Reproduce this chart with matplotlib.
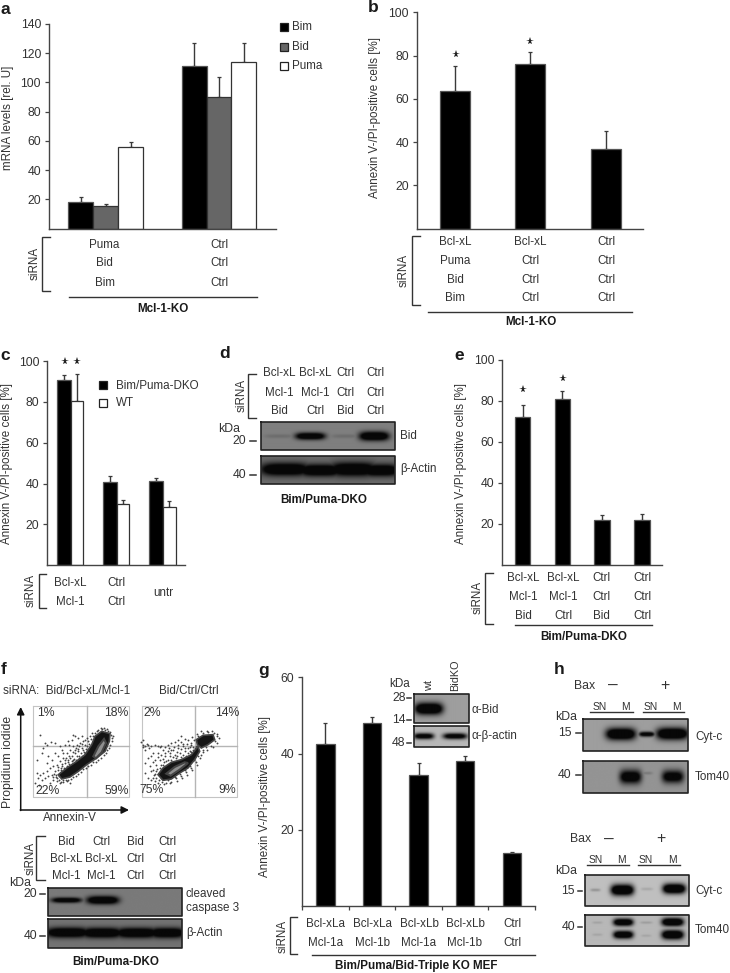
import numpy as np
import matplotlib
matplotlib.use('Agg')
import matplotlib.pyplot as plt

plt.rcParams['font.family'] = ['Liberation Sans', 'DejaVu Sans']
W, H = 730, 973
TXT = '#333333'
FS = 8.4

# panel a
a_groups = ['Puma\nBid\nBim', 'Ctrl\nCtrl\nCtrl']
a_bim = [18, 111]
a_bid = [15.5, 90]
a_puma = [56, 114]
a_bim_top = [22, 127]
a_bid_top = [17, 104]
a_puma_top = [59, 127]
# panel b
b_vals = [63.5, 76, 36.7]
b_top = [75, 81.5, 45]
b_rows = [['Bcl-xL', 'Bcl-xL', 'Ctrl'], ['Puma', 'Ctrl', 'Ctrl'], ['Bid', 'Ctrl', 'Ctrl'], ['Bim', 'Ctrl', 'Ctrl']]
# panel c
c_dko = [90.5, 41, 41.5]
c_dko_top = [93, 43.5, 42.5]
c_wt = [80.5, 30, 28.5]
c_wt_top = [93.5, 32, 31.5]
# panel e
e_vals = [72, 81, 22, 22]
e_top = [78, 85, 24.5, 25]
e_rows = [['Bcl-xL', 'Bcl-xL', 'Ctrl', 'Ctrl'], ['Mcl-1', 'Mcl-1', 'Ctrl', 'Ctrl'], ['Bid', 'Ctrl', 'Bid', 'Ctrl']]
# panel g
g_vals = [42.5, 48, 34.5, 38, 14]
g_top = [48, 49.5, 37.5, 39.5, 14.3]
g_rows = [['Bcl-xLa', 'Bcl-xLa', 'Bcl-xLb', 'Bcl-xLb', 'Ctrl'], ['Mcl-1a', 'Mcl-1b', 'Mcl-1a', 'Mcl-1b', 'Ctrl']]
# panel d / f tables
d_rows = [['Bcl-xL', 'Bcl-xL', 'Ctrl', 'Ctrl'], ['Mcl-1', 'Mcl-1', 'Ctrl', 'Ctrl'], ['Bid', 'Ctrl', 'Bid', 'Ctrl']]
f_rows = [['Bid', 'Ctrl', 'Bid', 'Ctrl'], ['Bcl-xL', 'Bcl-xL', 'Ctrl', 'Ctrl'], ['Mcl-1', 'Mcl-1', 'Ctrl', 'Ctrl']]

# flow plots, channel values
f1_dots = [(30,95),(45,120),(50,125),(62,118),(75,120),(90,130),(40,135),(35,150),(20,170),(55,160),(65,170),(75,150),
           (85,160),(95,140),(100,150),(105,125),(115,115),(125,110),(130,95),(135,100),(145,105),(155,100),(160,115),
           (150,120),(140,125),(130,130),(120,140),(110,150),(100,165),(90,175),(80,185),(70,190),(60,195),(50,205),
           (40,210),(30,215),(25,225),(20,210),(35,230),(45,225),(55,220),(65,215),(70,230),(80,235),(90,240),(100,238),
           (110,235),(120,240),(75,205),(85,200),(95,190),(105,180),(115,170),(125,160),(135,150),(145,145),(155,135),
           (165,125),(175,115),(180,100),(170,105),(185,90),(195,90),(205,80),(215,78),(225,80),(235,85),(243,95),
           (245,105),(240,125),(232,140),(222,155),(205,172),(190,178),(175,190),(160,198),(145,212),(130,222),(115,230),
           (100,232),(82,225),(78,215),(92,208),(108,205),(122,190),(135,180),(150,170),(118,125),(128,148),(138,135),
           (148,130),(158,140),(108,165),(98,205),(88,218),(140,160),(125,175),(112,190),(15,240),(28,245),(60,240),(50,180),
           (73,212),(68,222),(84,192),(97,183),(103,194),(113,178),(119,165),(127,182),(133,167),(142,170),(148,158),
           (153,150),(161,146),(168,138),(172,128),(178,122),(183,108),(188,98),(200,84),(212,74),(222,74),(232,78),
           (241,86),(248,98),(246,114),(238,134),(228,150),(214,166),(198,178),(182,186),(168,196),(152,208),(138,218),
           (124,228),(108,230),(94,236),(86,230),(78,222),(93,200),(105,198),(117,184),(129,170),(138,172),(146,164),
           (156,160),(166,150),(174,140),(156,122),(166,112),(144,138),(136,142),(116,158),(104,172),(92,196)]
f1_core = [(85,215),(110,195),(140,175),(165,155),(185,125),(195,100),(215,85),(240,92),(238,115),(225,145),(200,165),
           (170,185),(145,205),(120,222),(95,228)]
f1_light = [(190,160),(205,130),(222,108),(228,120),(215,148),(198,166)]
f2_dots = [(14,112),(14,125),(16,132),(22,128),(30,126),(40,130),(50,125),(60,130),(70,128),(80,132),(90,125),(100,120),
           (110,118),(120,112),(128,100),(140,108),(150,112),(160,120),(165,132),(150,135),(135,130),(120,135),(105,140),
           (90,145),(75,140),(60,150),(45,150),(30,165),(20,180),(35,190),(45,200),(55,185),(65,170),(80,160),(95,160),
           (110,155),(125,150),(140,145),(155,145),(20,210),(30,225),(40,232),(48,215),(52,235),(60,240),(72,238),(85,240),
           (100,236),(115,225),(130,218),(145,208),(160,195),(175,178),(190,155),(195,140),(205,132),(220,128),(232,115),
           (238,100),(228,90),(210,88),(195,90),(180,98),(168,110),(160,125),(172,135),(185,125),(55,205),(65,195),(75,185),
           (85,175),(100,170),(115,165),(130,162),(145,158),(160,148),(172,142),(45,178),(70,155),(95,150),(120,125),(10,118),
           (55,225),(70,225),(90,232),(110,222),(125,212),(140,200),(155,188),(168,172),(180,160),
           (50,212),(58,198),(68,186),(78,178),(90,170),(104,163),(118,160),(134,155),(150,150),(164,140),(174,128),
           (184,118),(163,102),(176,92),(190,85),(206,84),(222,85),(236,92),(242,106),(236,120),(224,132),(208,140),
           (196,148),(186,166),(176,186),(162,202),(148,215),(132,226),(116,234),(96,240),(78,242),(62,232),(46,224),
           (38,205),(52,172),(82,150),(108,132),(128,118),(146,122),(156,132),(136,122),(92,136),(66,132),(34,134),
           (26,122),(20,142),(38,160),(60,162),(76,168),(98,142),(116,146),(128,138),(142,134)]
f2_core = [(60,215),(75,195),(100,178),(130,170),(160,155),(180,130),(185,145),(170,170),(150,195),(125,210),(100,228),(75,232)]
f2_core2 = [(175,110),(195,97),(225,95),(230,110),(210,125),(190,135),(178,125)]
f2_light = [(85,212),(110,192),(140,178),(150,180),(125,200),(98,218)]

# blot bands: lane x, y, half width, half height, darkness (figure pixels)
d_bid = [(279,436,15,2,.1),(310,436,15,3.5,.95),(345,436,14,2,.1),(374,436,15,4.5,1)]
d_act = [(285,469,25,6.5,1),(320,470,22,6,1),(353,469,24,7,1),(380,470,19,6,1)]
f_cas = [(66.7,900,15,2.6,.9),(102.8,900,16,4,1)]
f_act = [(68,932.7,22,5,1),(102,933,21,5,1),(137,933,22,5,1),(167,933,18,5,1)]
g_bid = [(429,709,14,6,1)]
g_act = [(424,736,10,3,.8),(455,736,12,3,.8)]
h1_cyt = [(621,734.3,15,6,1),(647,734.5,8,2.5,.8),(672.5,734,16,6,1)]
h1_tom = [(630.7,776.7,11,7,.85),(646.7,773,6,1.5,.12),(673,776.5,11,6.5,.8)]
h2_cyt = [(595,890,5,1.5,.15),(622,890,11.5,5.5,1),(646.7,889,6,1.5,.08),(674,888.7,11.5,5,1)]
h2_tom = [(597,923,5,1.2,.08),(597,935,5,1.2,.07),(623,922.7,10,3.6,.95),(623,935,10,3.8,.95),(646,923,6,1.2,.1),
          (646,936,5,1.2,.07),(672.5,922.5,11,4,1),(672.5,935,11,4.5,1)]

fig = plt.figure(figsize=(W / 100, H / 100), dpi=100)


def px_axes(x0, y0, x1, y1):
    return fig.add_axes([x0 / W, 1 - y1 / H, (x1 - x0) / W, (y1 - y0) / H])


def bar_axes(box, ymax, yticks, c0, step):
    ax = px_axes(*box)
    ax.set_xlim((box[0] - c0) / step, (box[2] - c0) / step)
    ax.set_ylim(0, ymax)
    ax.set_yticks(yticks)
    ax.set_xticks([])
    ax.tick_params(axis='y', length=3, width=0.9, color='#444444', labelsize=FS + 0.4, labelcolor=TXT, pad=2.5)
    for s in ['top', 'right']:
        ax.spines[s].set_visible(False)
    for s in ['left', 'bottom']:
        ax.spines[s].set_color('#444444')
        ax.spines[s].set_linewidth(1.0)
    ax.patch.set_alpha(0)
    return ax


def bars(ax, x, vals, tops, width, color='black', edge='#555555'):
    ax.bar(x, vals, width, color=color, edgecolor=edge, linewidth=0.9, zorder=2)
    yerr = [np.zeros(len(vals)), np.array(tops) - np.array(vals)]
    ax.errorbar(x, vals, yerr=yerr, fmt='none', ecolor='#3a3a3a', elinewidth=1.0, capsize=1.5, capthick=0.9, zorder=1)


# panel a
ax = bar_axes((48.7, 24, 275.7, 228.7), 140, [20, 40, 60, 80, 100, 120, 140], 105.7, 113.3)
x = np.arange(2)
bars(ax, x - 0.22, a_bim, a_bim_top, 0.22)
bars(ax, x, a_bid, a_bid_top, 0.22, color='#666666', edge='#333333')
bars(ax, x + 0.22, a_puma, a_puma_top, 0.22, color='white', edge='#333333')
# panel b
ax = bar_axes((416.7, 12.3, 642.7, 228.7), 100, [20, 40, 60, 80, 100], 455, 75.3)
bars(ax, np.arange(3), b_vals, b_top, 0.4)
# panel c
ax = bar_axes((47, 361, 185, 565.3), 100, [20, 40, 60, 80, 100], 70.5, 46.2)
x = np.arange(3)
bars(ax, x - 0.148, c_dko, c_dko_top, 0.296)
bars(ax, x + 0.138, c_wt, c_wt_top, 0.276, color='white', edge='#333333')
# panel e
ax = bar_axes((502, 360, 661.7, 564.7), 100, [20, 40, 60, 80, 100], 522.5, 39.8)
bars(ax, np.arange(4), e_vals, e_top, 0.39)
# panel g
ax = bar_axes((302, 677.3, 535, 906.3), 60, [20, 40, 60], 325.5, 46.65)
bars(ax, np.arange(5), g_vals, g_top, 0.395)
ax.set_xticks(np.arange(-0.5, 5))
ax.set_xticklabels([])
ax.tick_params(axis='x', length=3, width=0.9, color='#444444')


# flow plots
def facs(crop, dots, cores, light, vline, hline, left):
    ax = px_axes(crop[0], crop[1], crop[0] + 105, crop[1] + 100)
    ax.set_xlim(0, 315)
    ax.set_ylim(300, 0)
    ax.axis('off')
    ax.plot([left, 298, 298, left, left], [10, 10, 282, 282, 10], color='#c4c4c4', lw=0.8)
    ax.plot([vline, vline], [10, 282], color='#b5b5b5', lw=1)
    ax.plot([left, 298], [hline, hline], color='#b5b5b5', lw=1)
    pts = np.array(dots)
    ax.scatter(pts[:, 0], pts[:, 1], s=1.8, color='#444444', linewidths=0, zorder=3)
    for c in cores:
        c = np.array(c)
        ax.fill(c[:, 0], c[:, 1], facecolor='#141414', edgecolor='#444444', lw=1.2, zorder=4)
    for c in light:
        c = np.array(c)
        ax.fill(c[:, 0], c[:, 1], facecolor='#8f8f8f', edgecolor='#444444', lw=1.5, zorder=5)


facs((30, 703), f1_dots, [f1_core], [f1_light], 170, 128, 10)
facs((138, 703), f2_dots, [f2_core, f2_core2], [f2_light], 170, 128, 12)

# overlay in figure pixels for tables, brackets, blots
ov = fig.add_axes([0, 0, 1, 1], zorder=10)
ov.patch.set_alpha(0)
ov.axis('off')


def txt(x, y, s, ha='center', size=FS, weight='normal', rot=0):
    ov.text(x, y, s, ha=ha, va='center', fontsize=size, fontweight=weight, color=TXT if weight == 'normal' else '#1a1a1a',
            rotation=rot)


def table(cols, ys, rows):
    for y, row in zip(ys, rows):
        for x, s in zip(cols, row):
            txt(x, y, s)


def bracket(x0, x1, y0, y1):
    ov.plot([x1, x0, x0, x1], [y0, y0, y1, y1], color='#333333', lw=1, solid_joinstyle='miter')


def rule(x0, x1, y, lw=1):
    ov.plot([x0, x1], [y, y], color='#333333', lw=lw)


def blot(x0, y0, x1, y1, bg, bands):
    xs = np.linspace(x0, x1, int((x1 - x0) * 3))
    ys = np.linspace(y0, y1, int((y1 - y0) * 3))
    xx, yy = np.meshgrid(xs, ys)
    dark = np.zeros_like(xx)
    for bx, by, hw, hh, d in bands:
        r = ((xx - bx) / hw) ** 4 + ((yy - by) / hh) ** 2
        dark = np.maximum(dark, np.minimum(1, 1.6 * d * np.exp(-r)))
    img = bg * (1 - dark) + 0.03 * dark
    ov.imshow(img, extent=(x0, x1, y1, y0), cmap='gray', vmin=0, vmax=1, aspect='auto', interpolation='bilinear')
    ov.plot([x0, x1, x1, x0, x0], [y0, y0, y1, y1, y0], color='#222222', lw=1.2)


def size_mark(s, y, right, dash):
    txt(right, y, s, ha='right', size=FS + 0.4)
    rule(dash[0], dash[1], y, lw=1.1)


def stars(xs, ys):
    ov.plot(xs, ys, ls='none', marker='*', ms=5.8, color='#222222', mew=0)


# panel letters
for s, x, y in [('a', 5, 9), ('b', 373, 8), ('c', 5, 355), ('d', 225, 354), ('e', 459, 355), ('f', 4, 669), ('g', 264, 671), ('h', 559, 669)]:
    txt(x, y, s, size=12.5, weight='bold')

# a
for y, name, col in [(27, 'Bim', 'black'), (47, 'Bid', '#666666'), (66, 'Puma', 'white')]:
    ov.plot([283.5], [y], marker='s', ms=6, mfc=col, mec='#222222', mew=0.9)
    txt(292, y, name, ha='left')
txt(8, 118, 'mRNA levels [rel. U]', rot=90)
for y, a, b in zip([244.5, 263.5, 282.5], a_groups[0].split('\n'), a_groups[1].split('\n')):
    txt(104.5, y, a)
    txt(219, y, b)
txt(35, 263, 'siRNA', rot=90)
bracket(42, 50, 237, 291)
rule(69, 257, 297)
txt(163, 308.5, 'Mcl-1-KO', weight='bold')

# b
txt(375, 118, 'Annexin V-/PI-positive cells [%]', rot=90)
table([455, 530, 606], [242, 261, 280, 298], b_rows)
txt(404, 270, 'siRNA', rot=90)
bracket(411.5, 419.5, 236, 305)
rule(428, 632, 312)
txt(530.7, 322, 'Mcl-1-KO', weight='bold')
stars([455.7, 530], [54, 41])

# c
txt(7, 463, 'Annexin V-/PI-positive cells [%]', rot=90)
stars([64.5, 77], [361, 361])
ov.plot([103], [385], marker='s', ms=6, mfc='black', mec='#222222', mew=0.9)
ov.plot([103], [403], marker='s', ms=6, mfc='white', mec='#222222', mew=0.9)
txt(116, 386, 'Bim/Puma-DKO', ha='left')
txt(116, 403, 'WT', ha='left')
table([70, 116.5], [583, 602], [['Bcl-xL', 'Ctrl'], ['Mcl-1', 'Ctrl']])
txt(163, 593, 'untr')
txt(31, 590, 'siRNA', rot=90)
bracket(39, 46, 574, 608)

# d
table([279, 315, 345, 375], [373, 392.5, 411.5], d_rows)
txt(242, 395, 'siRNA', rot=90)
bracket(248, 256, 374, 418)
blot(260.7, 422, 394.7, 449.7, 0.5, d_bid)
blot(260.7, 455.7, 394.7, 483.7, 0.42, d_act)
txt(218, 429, 'kDa', ha='left', size=FS + 0.4)
size_mark('20', 441, 246, (250, 256))
size_mark('40', 475, 246, (250, 256))
txt(400, 436, 'Bid', ha='left')
txt(400, 469, 'β-Actin', ha='left')
txt(323.5, 500, 'Bim/Puma-DKO', weight='bold')

# e
txt(460.7, 463, 'Annexin V-/PI-positive cells [%]', rot=90)
stars([523, 562.7], [389, 377.7])
table([523, 563, 601, 642], [578, 597, 616], e_rows)
txt(477.7, 597.7, 'siRNA', rot=90)
bracket(485, 493, 572.7, 624)
rule(515, 651.7, 625.3)
txt(583.3, 636.7, 'Bim/Puma-DKO', weight='bold')

# f
txt(3, 690.7, 'siRNA:  Bid/Bcl-xL/Mcl-1', ha='left')
txt(189, 690.7, 'Bid/Ctrl/Ctrl')
ov.annotate('', xy=(20.7, 707), xytext=(20.7, 810.5), arrowprops=dict(arrowstyle='-|>', color='#111111', lw=1.1, shrinkA=0, shrinkB=0, mutation_scale=11))
ov.annotate('', xy=(129, 810), xytext=(20.2, 810), arrowprops=dict(arrowstyle='-|>', color='#111111', lw=1.1, shrinkA=0, shrinkB=0, mutation_scale=11))
txt(8, 762, 'Propidium iodide', rot=90, size=FS + 0.4)
txt(70, 817.7, 'Annexin-V', size=FS)
for s, x, y in [('1%', 46, 713), ('18%', 116.5, 713), ('22%', 48, 791.5), ('59%', 116.5, 791.5),
                ('2%', 152, 713), ('14%', 227, 713), ('75%', 152, 790), ('9%', 227, 790)]:
    txt(x, y, s, size=FS + 0.4)
table([66, 101.5, 135, 167], [842, 859, 876], f_rows)
txt(31, 858, 'siRNA', rot=90)
bracket(36, 45, 836, 880)
blot(48.3, 888, 181.7, 915.7, 0.48, f_cas)
blot(48.3, 919.3, 181.7, 948, 0.45, f_act)
txt(9, 882.7, 'kDa', ha='left', size=FS + 0.4)
size_mark('20', 894, 37, (40, 45))
size_mark('40', 936, 37, (40, 45))
txt(186, 894, 'cleaved', ha='left')
txt(186, 907.7, 'caspase 3', ha='left')
txt(186, 932.7, 'β-Actin', ha='left')
txt(116, 962, 'Bim/Puma-DKO', weight='bold')

# g
txt(265, 796.7, 'Annexin V-/PI-positive cells [%]', rot=90)
table([325.5, 372.5, 419, 465, 512], [924, 943], g_rows)
txt(283, 936, 'siRNA', rot=90)
bracket(290, 297, 917, 954)
rule(312, 535, 955)
txt(416, 966, 'Bim/Puma/Bid-Triple KO MEF', weight='bold')
blot(414.3, 694.3, 468.7, 723.3, 0.62, g_bid)
blot(414.3, 726, 468.7, 746.7, 0.72, g_act)
txt(389, 684, 'kDa', ha='left', size=FS)
size_mark('28', 697.7, 405.7, (407, 411))
size_mark('14', 720, 405.7, (407, 411))
size_mark('48', 743, 405.7, (407, 411))
ov.text(429, 691, 'wt', rotation=90, ha='center', va='bottom', fontsize=FS - 0.6, color=TXT)
ov.text(455, 691, 'BidKO', rotation=90, ha='center', va='bottom', fontsize=FS - 0.6, color=TXT)
txt(471.7, 710, 'α-Bid', ha='left')
txt(471.7, 736, 'α-β-actin', ha='left')

# h
for bax_x, bax_y, minus, plus, sn_y, sn_x, rules, kda_y in [
        (574, 685.7, 613, 664.7, 706.7, [600, 625, 651, 676], [(590, 633), (643, 684)], 716.7),
        (570, 839, 609, 661, 860, [596, 621, 646, 672], [(587, 629), (638, 680)], 870.7)]:
    txt(bax_x, bax_y, 'Bax', ha='left', size=FS + 0.4)
    txt(minus, bax_y, '–', size=FS + 4)
    txt(plus, bax_y, '+', size=FS + 3)
    for xx, s in zip(sn_x, ['SN', 'M', 'SN', 'M']):
        txt(xx, sn_y, s, size=FS - 1)
    for r in rules:
        rule(r[0], r[1], sn_y + 5.3)
    txt(555, kda_y, 'kDa', ha='left', size=FS + 0.4)
blot(583.3, 719.3, 688, 751.3, 0.62, h1_cyt)
blot(583.3, 761, 688, 792.7, 0.58, h1_tom)
blot(584.7, 875, 688.7, 906, 0.75, h2_cyt)
blot(584.7, 914.7, 688.7, 946, 0.72, h2_tom)
size_mark('15', 733.3, 571.7, (576, 581))
size_mark('40', 775, 571.7, (576, 581))
size_mark('15', 890.7, 575, (578, 582))
size_mark('40', 927.3, 575, (578, 582))
txt(695, 737.3, 'Cyt-c', ha='left')
txt(695, 776.7, 'Tom40', ha='left')
txt(695, 890.7, 'Cyt-c', ha='left')
txt(695, 930, 'Tom40', ha='left')

ov.set_xlim(0, W)
ov.set_ylim(H, 0)
fig.savefig('out.png', dpi=100)
